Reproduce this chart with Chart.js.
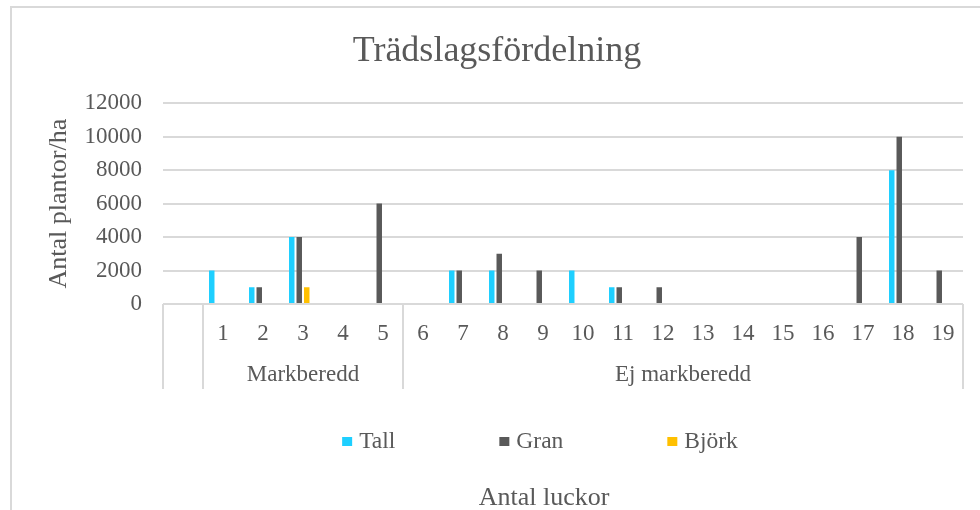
<!DOCTYPE html>
<html>
<head>
<meta charset="utf-8">
<script src="https://cdn.jsdelivr.net/npm/chart.js@4/dist/chart.umd.min.js"></script>
<style>
  body { margin: 0; background: #fff; overflow: hidden; }
  #wrap { width: 980px; height: 510px; }
</style>
</head>
<body>
<div id="wrap"><canvas id="treeChart"></canvas></div>
<script>
// Data
const categories = ['', '1', '2', '3', '4', '5', '6', '7', '8', '9', '10', '11', '12', '13', '14', '15', '16', '17', '18', '19'];
const tall  = [0, 2000, 1000, 4000, 0, 0, 0, 2000, 2000, 0, 2000, 1000, 0, 0, 0, 0, 0, 0, 8000, 0];
const gran  = [0, 0, 1000, 4000, 0, 6000, 0, 2000, 3000, 2000, 0, 1000, 1000, 0, 0, 0, 0, 4000, 10000, 2000];
const bjork = [0, 0, 0, 1000, 0, 0, 0, 0, 0, 0, 0, 0, 0, 0, 0, 0, 0, 0, 0, 0];
const groupLabels = ['', 'Markberedd', 'Ej markberedd'];
const groupStarts = [0, 1, 6];
const yTicks = [0, 2000, 4000, 6000, 8000, 10000, 12000];

const textColor = '#595959';
const gridColor = '#d9d9d9';
const fontFamily = '"Liberation Serif", serif';

Chart.defaults.font.family = fontFamily;
Chart.defaults.color = textColor;

// Frame, grouped category boxes, legend and x title
const layoutPlugin = {
    id: 'layoutPlugin',
    beforeDraw(chart) {
        const ctx = chart.ctx;
        ctx.save();
        ctx.strokeStyle = gridColor;
        ctx.lineWidth = 2;
        ctx.beginPath();
        ctx.moveTo(11, chart.height);
        ctx.lineTo(11, 7);
        ctx.lineTo(chart.width, 7);
        ctx.stroke();
        ctx.restore();
    },
    afterDraw(chart) {
        const { ctx, chartArea } = chart;
        const x = chart.scales.x;
        const half = (x.getPixelForValue(1) - x.getPixelForValue(0)) / 2;
        const boxBottom = chartArea.bottom + 85;

        ctx.save();
        ctx.strokeStyle = gridColor;
        ctx.lineWidth = 2;
        groupStarts.concat([categories.length]).forEach(i => {
            const px = Math.round(x.getPixelForValue(i) - half);
            ctx.beginPath();
            ctx.moveTo(px, chartArea.bottom);
            ctx.lineTo(px, boxBottom);
            ctx.stroke();
        });

        // group labels
        ctx.fillStyle = textColor;
        ctx.font = '23px ' + fontFamily;
        ctx.textAlign = 'center';
        ctx.textBaseline = 'middle';
        groupLabels.forEach((label, g) => {
            const from = groupStarts[g];
            const to = g + 1 < groupStarts.length ? groupStarts[g + 1] - 1 : categories.length - 1;
            const cx = (x.getPixelForValue(from) + x.getPixelForValue(to)) / 2;
            ctx.fillText(label, cx, chartArea.bottom + 71);
        });

        // legend
        const items = chart.data.datasets.filter(d => d.label);
        ctx.font = '23.5px ' + fontFamily;
        const gap = 104;
        const widths = items.map(d => 17 + ctx.measureText(d.label).width);
        const total = widths.reduce((s, w) => s + w, 0) + gap * (items.length - 1);
        let lx = 540 - total / 2;
        ctx.textAlign = 'left';
        items.forEach((d, i) => {
            ctx.fillStyle = d.backgroundColor;
            ctx.fillRect(lx, 437, 10, 9);
            ctx.fillStyle = textColor;
            ctx.fillText(d.label, lx + 17, 442);
            lx += widths[i] + gap;
        });

        // x axis title
        ctx.font = '26px ' + fontFamily;
        ctx.textAlign = 'center';
        ctx.fillText('Antal luckor', 544, 498);
        ctx.restore();
    }
};

const ctx = document.getElementById('treeChart').getContext('2d');
const treeChart = new Chart(ctx, {
    type: 'bar',
    data: {
        labels: categories,
        datasets: [
            { label: 'Tall', data: tall, backgroundColor: '#1ecfff' },
            { label: 'Gran', data: gran, backgroundColor: '#595959' },
            { label: 'Björk', data: bjork, backgroundColor: '#ffc000' },
            { label: '', data: [], backgroundColor: '#ffffff' } // empty fourth series slot
        ]
    },
    options: {
        responsive: true,
        maintainAspectRatio: false,
        animation: false,
        datasets: {
            bar: {
                barPercentage: 0.73,
                categoryPercentage: 0.75
            }
        },
        layout: {
            padding: { left: 31, right: 17, top: 0, bottom: 0 }
        },
        plugins: {
            legend: { display: false },
            tooltip: { enabled: false },
            title: {
                display: true,
                text: 'Trädslagsfördelning',
                color: textColor,
                font: { family: fontFamily, size: 36, weight: 'normal' },
                padding: { top: 30, bottom: 30 }
            }
        },
        scales: {
            x: {
                grid: { display: false },
                border: { display: false },
                ticks: {
                    font: { family: fontFamily, size: 23 },
                    padding: 8,
                    autoSkip: false,
                    maxRotation: 0
                },
                afterFit: (scale) => { scale.height = 206; }
            },
            y: {
                min: 0,
                max: 12000,
                afterBuildTicks: (scale) => { scale.ticks = yTicks.map(v => ({ value: v })); },
                grid: { color: gridColor, lineWidth: 2, drawTicks: false },
                border: { display: false },
                ticks: {
                    font: { family: fontFamily, size: 23 },
                    padding: 21,
                    callback: (value) => String(value)
                },
                title: {
                    display: true,
                    text: 'Antal plantor/ha',
                    font: { family: fontFamily, size: 26 },
                    padding: { top: 13, bottom: 0 }
                },
                afterFit: (scale) => { scale.width = 132; }
            }
        }
    },
    plugins: [layoutPlugin]
});
</script>
</body>
</html>
